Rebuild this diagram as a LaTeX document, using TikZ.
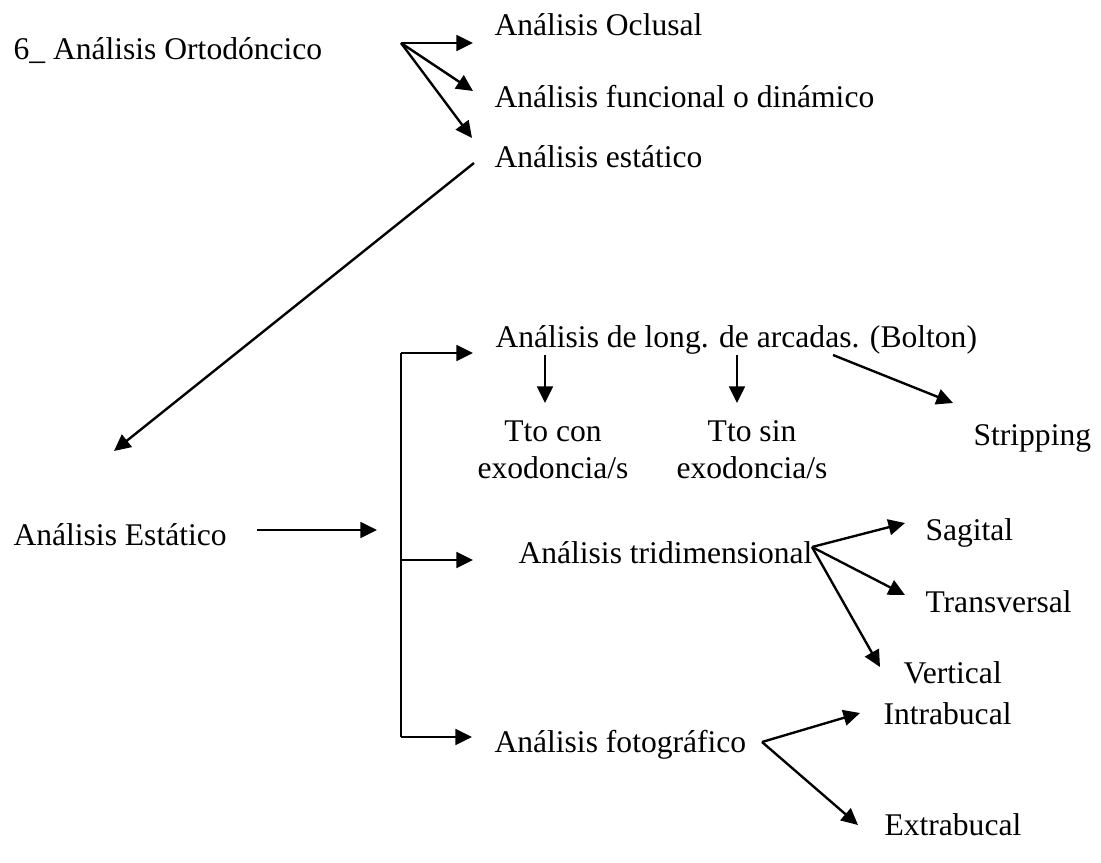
\documentclass[tikz,border=0pt]{standalone}
\usepackage{fontspec}
\setmainfont{Liberation Serif}
\usetikzlibrary{arrows.meta}
\begin{document}
\begin{tikzpicture}[x=0.38pt,y=-0.38pt,
  lbl/.style={anchor=base west,inner sep=0pt,font=\fontsize{12}{13.7}\selectfont},
  two/.style={anchor=base,inner sep=0pt,align=center,font=\fontsize{12}{13.7}\selectfont},
  arr/.style={line width=0.9pt,-{Triangle[length=6.3pt,width=6pt]}},
  ln/.style={line width=0.75pt}]
\useasboundingbox (0,0) rectangle (1101,862);
% texts
\node[lbl] (orto) at (13,59) {6\_ Análisis Ortodóncico};
\node[lbl] (ocl) at (494,35) {Análisis Oclusal};
\node[lbl] (fun) at (494,107) {Análisis funcional o dinámico};
\node[lbl] (est) at (494,167) {Análisis estático};
\node[lbl] (bol) at (495,347) {Análisis de long. de arcadas. (Bolton)};
\node[two] (con) at (553,478) {Tto con\\exodoncia/s};
\node[two] (sin) at (752,478) {Tto sin\\exodoncia/s};
\node[lbl] (str) at (973,445) {Stripping};
\node[lbl] (Est) at (13,545) {Análisis Estático};
\node[lbl] (tri) at (518,563) {Análisis tridimensional};
\node[lbl] (sag) at (925,540) {Sagital};
\node[lbl] (tra) at (925,612) {Transversal};
\node[lbl] (ver) at (903,683) {Vertical};
\node[lbl] (foto) at (494,752) {Análisis fotográfico};
\node[lbl] (intra) at (883,724) {Intrabucal};
\node[lbl] (extra) at (884,835) {Extrabucal};
% coordinates
\coordinate (h0) at (401,43);
\coordinate (a1) at (473,43);
\coordinate (a2) at (473,91);
\coordinate (a3) at (472,138);
\coordinate (l0) at (474,163);
\coordinate (l1) at (114,451);
\coordinate (e0) at (257,530);
\coordinate (e1) at (377,530);
\coordinate (bt) at (401,353);
\coordinate (bm) at (401,560);
\coordinate (bb) at (401,737);
\coordinate (bta) at (473,353);
\coordinate (bma) at (473,560);
\coordinate (bba) at (472,737);
\coordinate (d1) at (545,355);
\coordinate (d1a) at (545,403);
\coordinate (d2) at (737,355);
\coordinate (d2a) at (737,403);
\coordinate (s0) at (833,355);
\coordinate (s1) at (953,403);
\coordinate (th) at (812,547);
\coordinate (tsa) at (905,523);
\coordinate (tta) at (905,595);
\coordinate (tva) at (880,667);
\coordinate (fh) at (762,742);
\coordinate (fia) at (860,713);
\coordinate (fea) at (858,825);
% connectors
\draw[arr] (h0) -- (a1);
\draw[arr] (h0) -- (a2);
\draw[arr] (h0) -- (a3);
\draw[arr] (l0) -- (l1);
\draw[arr] (e0) -- (e1);
\draw[ln] (bt) -- (bb);
\draw[arr] (bt) -- (bta);
\draw[arr] (bm) -- (bma);
\draw[arr] (bb) -- (bba);
\draw[arr] (d1) -- (d1a);
\draw[arr] (d2) -- (d2a);
\draw[arr] (s0) -- (s1);
\draw[arr] (th) -- (tsa);
\draw[arr] (th) -- (tta);
\draw[arr] (th) -- (tva);
\draw[arr] (fh) -- (fia);
\draw[arr] (fh) -- (fea);
\end{tikzpicture}
\end{document}
